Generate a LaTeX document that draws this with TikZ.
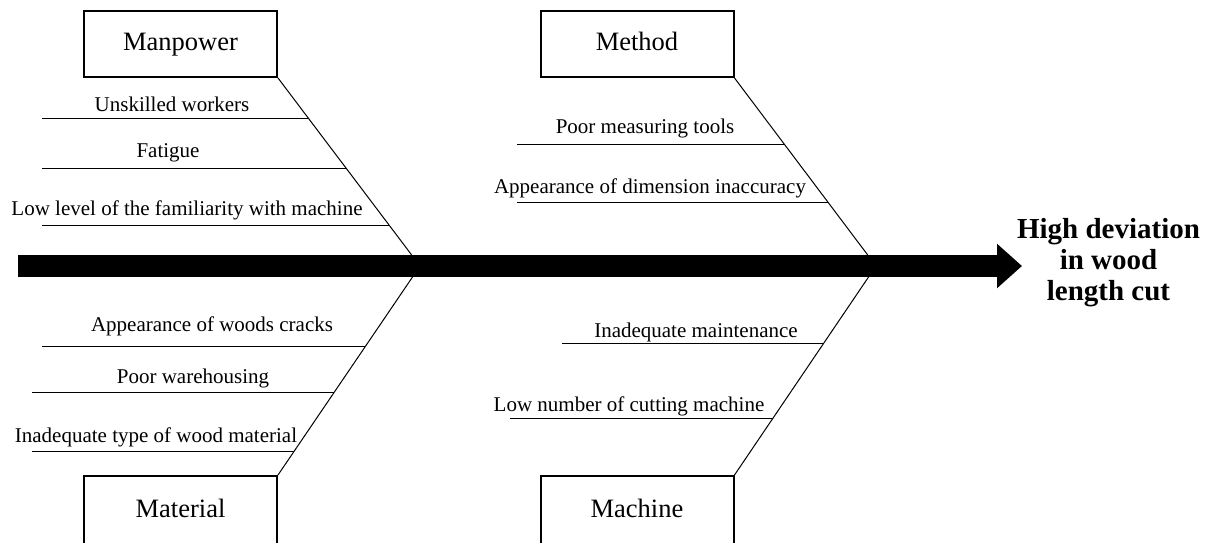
\documentclass[tikz,border=0pt]{standalone}
\usepackage{fontspec}
\setmainfont{Liberation Serif}
\usetikzlibrary{calc, positioning, arrows.meta}

\begin{document}
\begin{tikzpicture}[x=0.5pt, y=-0.5pt,
	catbox/.style={draw, line width=1pt, minimum width=96.5pt, minimum height=33pt, inner sep=0pt, text height=0.66em, text depth=0pt, font=\fontsize{13.25}{15}\selectfont},
	cause/.style={anchor=base, inner sep=0pt, font=\fontsize{10.5}{12.6}\selectfont},
	bone/.style={line width=0.5pt}]

		\useasboundingbox (0,0) rectangle (1212,542);

		% nodes - categories %
		\node[catbox] (mp) at (180.5,44) {Manpower};
		\node[catbox] (me) at (637,44) {Method};
		\node[catbox, minimum height=35pt] (mat) at (180.5,511) {Material};
		\node[catbox, minimum height=35pt] (mc) at (637,511) {Machine};

		% effect %
		\node[font=\bfseries\fontsize{14.5}{15.5}\selectfont, align=center] (effect) at (1108.5,263) {High deviation\\in wood\\length cut};

		% spine coordinates %
		\coordinate (tail) at (18,266);
		\coordinate (head) at (1022,266);
		\coordinate (jA) at (420,266);
		\coordinate (jB) at (876,266);

		% main bones %
		\draw[bone] (mp.south east) -- (jA) coordinate[pos=0.217] (m1) coordinate[pos=0.481] (m2) coordinate[pos=0.783] (m3);
		\draw[bone] (me.south east) -- (jB) coordinate[pos=0.354] (d1) coordinate[pos=0.661] (d2);
		\draw[bone] (mat.north east) -- (jA) coordinate[pos=0.614] (a1) coordinate[pos=0.395] (a2) coordinate[pos=0.114] (a3);
		\draw[bone] (mc.north east) -- (jB) coordinate[pos=0.629] (c1) coordinate[pos=0.271] (c2);

		% spine %
		\draw[line width=11pt, -{Triangle[length=12.5pt, width=21.5pt]}] (tail) -- (head);

		% sub-bones %
		\coordinate (m1l) at (42,0 |- m1);
		\coordinate (m2l) at (42,0 |- m2);
		\coordinate (m3l) at (42,0 |- m3);
		\coordinate (d1l) at (517,0 |- d1);
		\coordinate (d2l) at (517,0 |- d2);
		\coordinate (a1l) at (42,0 |- a1);
		\coordinate (a2l) at (32,0 |- a2);
		\coordinate (a3l) at (32,0 |- a3);
		\coordinate (c1l) at (562,0 |- c1);
		\coordinate (c2l) at (510,0 |- c2);
		\draw[bone] (m1l) -- (m1);
		\draw[bone] (m2l) -- (m2);
		\draw[bone] (m3l) -- (m3);
		\draw[bone] (d1l) -- (d1);
		\draw[bone] (d2l) -- (d2);
		\draw[bone] (a1l) -- (a1);
		\draw[bone] (a2l) -- (a2);
		\draw[bone] (a3l) -- (a3);
		\draw[bone] (c1l) -- (c1);
		\draw[bone] (c2l) -- (c2);

		% causes %
		\node[cause] (t1) at (172,111) {Unskilled workers};
		\node[cause] (t2) at (168,157) {Fatigue};
		\node[cause] (t3) at (187,215) {Low level of the familiarity with machine};
		\node[cause] (t4) at (645,133) {Poor measuring tools};
		\node[cause] (t5) at (650,193) {Appearance of dimension inaccuracy};
		\node[cause] (t6) at (212,331) {Appearance of woods cracks};
		\node[cause] (t7) at (193,383) {Poor warehousing};
		\node[cause] (t8) at (156,442) {Inadequate type of wood material};
		\node[cause] (t9) at (696,337) {Inadequate maintenance};
		\node[cause] (t10) at (629,411) {Low number of cutting machine};

		\end{tikzpicture}
\end{document}
